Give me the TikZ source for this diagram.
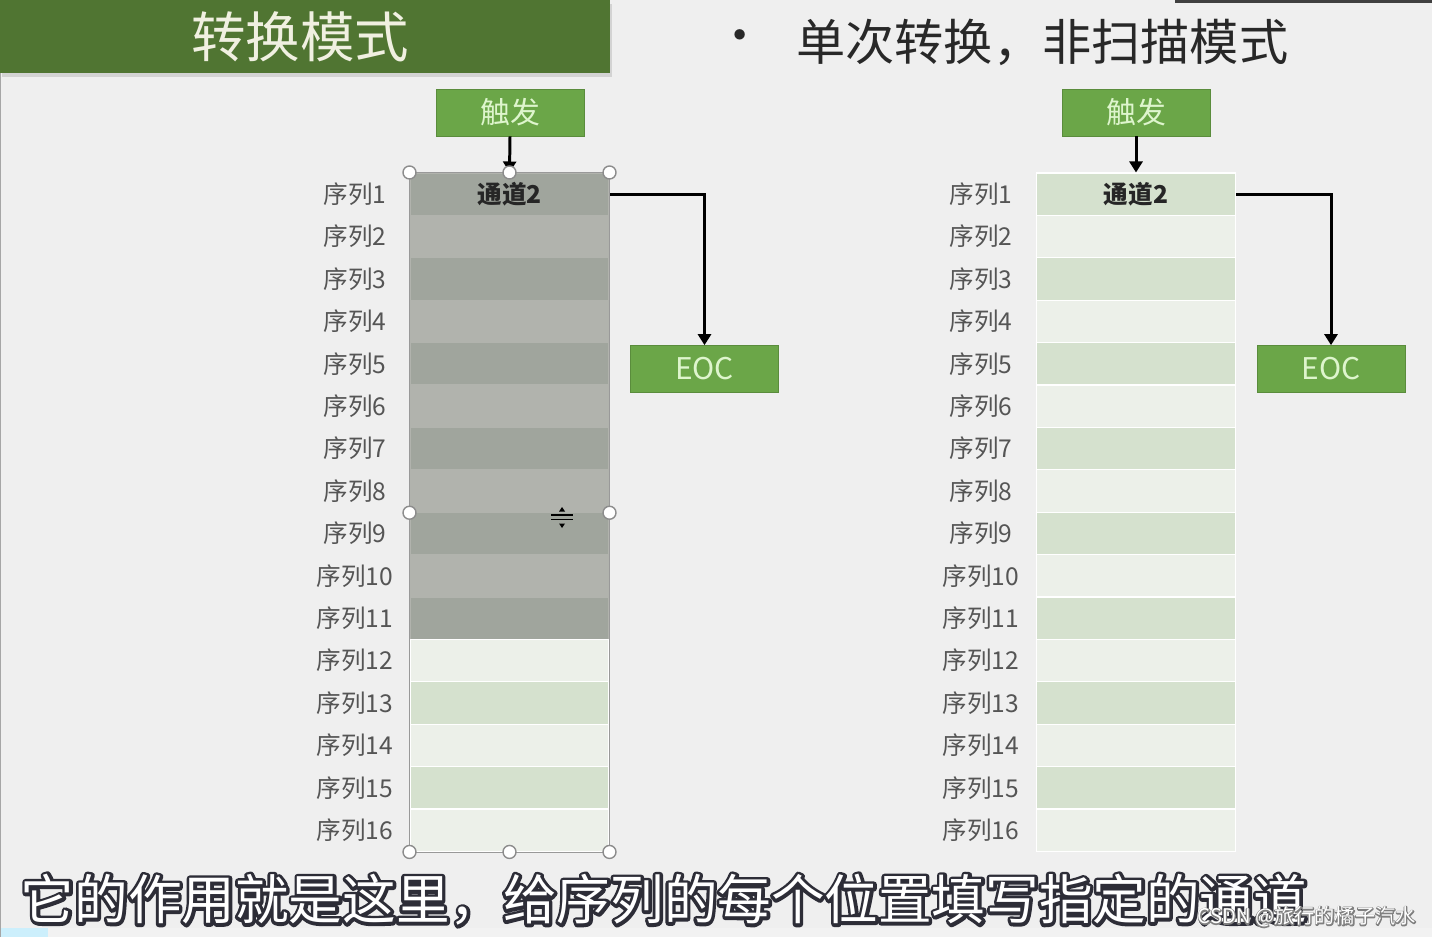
\documentclass[tikz,border=0pt]{standalone}
\usepackage{fontspec}
\setmainfont{Noto Sans CJK SC}
\usepackage{tikz}
\usetikzlibrary{positioning,arrows.meta,shadows}
\definecolor{pagebg}{RGB}{239,239,239}
\definecolor{titlegreen}{RGB}{80,117,50}
\definecolor{titletext}{RGB}{240,240,225}
\definecolor{headtext}{RGB}{40,40,40}
\definecolor{boxgreen}{RGB}{107,166,72}
\definecolor{boxedge}{RGB}{90,140,60}
\definecolor{boxtext}{RGB}{222,245,205}
\definecolor{graydark}{RGB}{160,165,157}
\definecolor{graylight}{RGB}{177,179,173}
\definecolor{rowgreen}{RGB}{213,225,206}
\definecolor{rowpale}{RGB}{236,240,233}
\definecolor{labeltext}{RGB}{85,85,85}
\definecolor{capedge}{RGB}{45,45,55}
\newcommand{\rimtext}[3]{\rlap{\color{#2}\special{pdf:code q 1 Tr #1 w 1 j}#3\special{pdf:code Q}}#3}
\tikzset{
  titlebar/.style={fill=titlegreen, text=titletext, minimum width=12.2cm, minimum height=1.46cm,
    inner sep=0pt, font=\fontsize{31}{31}\selectfont,
    drop shadow={opacity=0.25, shadow xshift=0.04cm, shadow yshift=-0.08cm}},
  headline/.style={text=headtext, font=\fontsize{28}{28}\selectfont, inner sep=0pt},
  gobox/.style={fill=boxgreen, draw=boxedge, text=boxtext, minimum width=2.96cm,
    minimum height=0.94cm, inner sep=0pt, font=\fontsize{17}{17}\selectfont},
  seqcell/.style={minimum width=3.98cm, minimum height=0.848cm, inner sep=0pt, line width=0.6pt},
  seqlabel/.style={text=labeltext, inner sep=0pt, font=\fontsize{14}{14}\selectfont},
  chanlabel/.style={text=black!85, inner sep=0pt, font=\bfseries\fontsize{14}{14}\selectfont},
  flowarrow/.style={-{Triangle[length=2.2mm,width=2.6mm]}, line width=1.7pt},
  selframe/.style={draw=black!40, line width=0.5pt},
  handle/.style={circle, draw=black!45, fill=white, line width=0.8pt, minimum size=0.26cm, inner sep=0pt},
  caption/.style={text=white, inner sep=0pt, font=\fontsize{30.5}{30.5}\selectfont},
  wmarktext/.style={text=white, inner sep=0pt, font=\fontsize{11.5}{11.5}\selectfont},
}

\begin{document}
\begin{tikzpicture}[x=0.02cm, y=-0.02cm]
  \fill[pagebg] (0,0) rectangle (1432,937);
  \useasboundingbox (0,0) rectangle (1432,937);
  \fill[black!75] (1175,0) rectangle (1432,3);
  \fill[black!5] (0,928) rectangle (1432,937);
  \fill[cyan!20] (0,928) rectangle (48,937);
  \draw[black!35, line width=0.8pt] (0.5,73) -- (0.5,937);
  \node[titlebar] (title) at (305,36.5) {\hspace*{-0.2cm}转换模式};
  \node[headline] (bullet) at (740,42) {•};
  \node[headline, anchor=west] (mode) at (796,42) {单次转换，非扫描模式};

  \foreach \i in {1,...,16}{
    \pgfmathsetmacro{\ypos}{173+42.4*(\i-0.5)}
    \ifnum\i<12 \ifodd\i \def\lc{graydark}\else\def\lc{graylight}\fi \def\lb{graylight}%
    \else \ifodd\i \def\lc{rowgreen}\else\def\lc{rowpale}\fi \def\lb{white}\fi
    \ifodd\i \def\rc{rowgreen}\else\def\rc{rowpale}\fi
    \node[seqcell, fill=\lc, draw=\lb] (L\i) at (509.5,\ypos) {};
    \node[seqlabel] (L\i lab) at (355,\ypos) {序列\i};
    \node[seqcell, fill=\rc, draw=white] (R\i) at (1136,\ypos) {};
    \node[seqlabel] (R\i lab) at (981,\ypos) {序列\i};
  }
  \node[chanlabel] (chanL) at (L1) {通道2};
  \node[chanlabel] (chanR) at (R1) {通道2};

  \node[gobox] (trigL) at (510,112.5) {触发};
  \node[gobox] (eocL) at (704.5,369) {EOC};
  \node[gobox] (trigR) at (1136,112.5) {触发};
  \node[gobox] (eocR) at (1331,369) {EOC};
  \draw[flowarrow] (trigL.south) -- (L1.north);
  \draw[flowarrow] (L1.east) -| (eocL.north);
  \draw[flowarrow] (trigR.south) -- (R1.north);
  \draw[flowarrow] (R1.east) -| (eocR.north);

  \draw[selframe] (L1.north west) rectangle (L16.south east);
  \foreach \p [count=\k] in {L1.north west,L1.north,L1.north east,L8.south west,
      L8.south east,L16.south west,L16.south,L16.south east}
    \node[handle] (h\k) at (\p) {};
  \draw[black, line width=0.9pt] (551,515) -- (573,515) (551,519.5) -- (573,519.5);
  \fill[black] (562,507) -- (559,511.5) -- (565,511.5) -- cycle;
  \fill[black] (562,528) -- (559,523.5) -- (565,523.5) -- cycle;

  \node[caption] (subtitle) at (664,900) {\rimtext{3.6}{capedge}{它的作用就是这里，给序列的每个位置填写指定的通道}};
  \node[wmarktext, anchor=east] (wmark) at (1416,917) {\rimtext{1.2}{black!50}{CSDN @旅行的橘子汽水}};
\end{tikzpicture}
\end{document}
